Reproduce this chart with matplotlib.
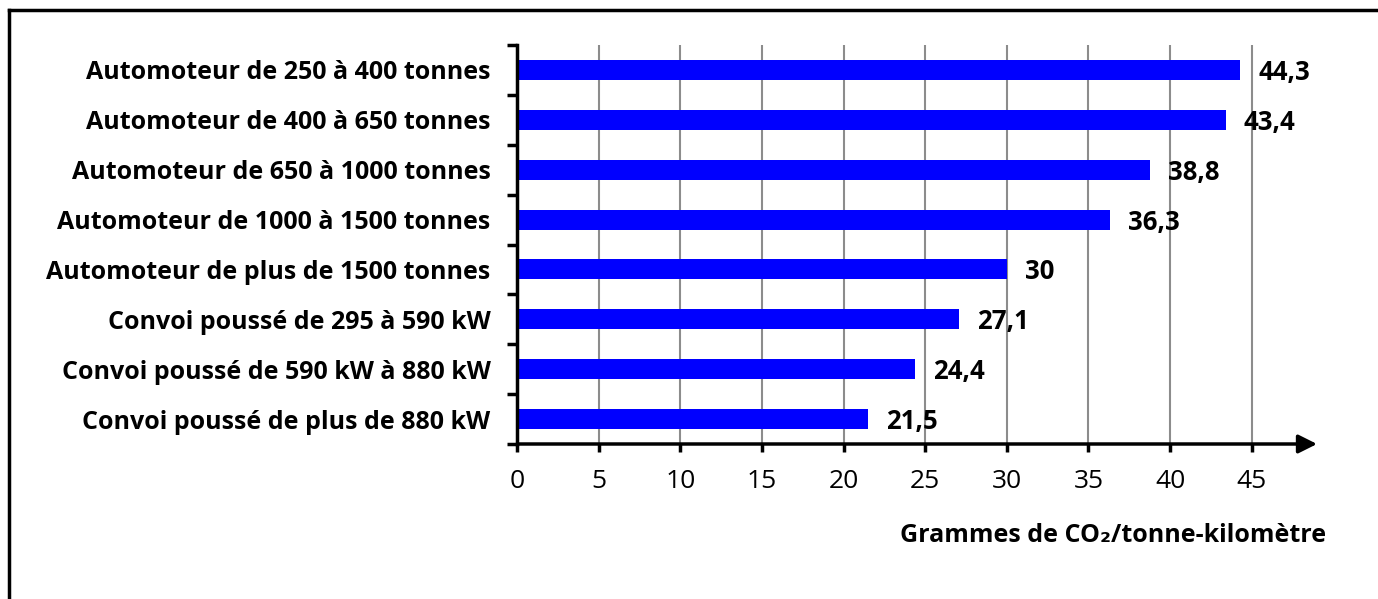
import matplotlib
matplotlib.use("Agg")
import matplotlib.pyplot as plt
import numpy as np

# data, top to bottom as in the chart
categories = [
    "Automoteur de 250 à 400 tonnes",
    "Automoteur de 400 à 650 tonnes",
    "Automoteur de 650 à 1000 tonnes",
    "Automoteur de 1000 à 1500 tonnes",
    "Automoteur de plus de 1500 tonnes",
    "Convoi poussé de 295 à 590 kW",
    "Convoi poussé de 590 kW à 880 kW",
    "Convoi poussé de plus de 880 kW",
]
values = [44.3, 43.4, 38.8, 36.3, 30, 27.1, 24.4, 21.5]
value_labels = ["44,3", "43,4", "38,8", "36,3", "30", "27,1", "24,4", "21,5"]
xticks = [0, 5, 10, 15, 20, 25, 30, 35, 40, 45]
xlabel = "Grammes de CO\u2082/tonne-kilomètre"

plt.rcParams['font.family'] = ['Open Sans', 'DejaVu Sans']

fig = plt.figure(figsize=(13.78, 5.99), dpi=100)
ax = fig.add_axes([517 / 1378, 1 - 444 / 599, 800 / 1378, 399 / 599])

n = len(categories)
ypos = np.arange(n)[::-1]
ax.barh(ypos, values, height=0.4, color="#0000FF", zorder=2)

for y, v, lab in zip(ypos, values, value_labels):
    ax.text(v + 1.1, y - 0.05, lab, ha="left", va="center",
            fontsize=18.5, fontweight="bold", color="black", zorder=3)

ax.set_xlim(0, 49)
ax.set_ylim(-0.5, n - 0.5)

# grid
ax.set_xticks(xticks)
ax.set_xticklabels([str(t) for t in xticks], fontsize=19)
ax.xaxis.grid(True, color="#8c8c8c", linewidth=1.5, zorder=0)
ax.tick_params(axis="x", direction="out", length=6, width=2.5, pad=12, colors="black")

# y axis: labels at bar centres, ticks at band edges
ax.set_yticks(ypos)
ax.set_yticklabels(categories, fontsize=18, fontweight="bold")
ax.tick_params(axis="y", which="major", length=0, pad=19)
ax.set_yticks(np.arange(-0.5, n, 1.0), minor=True)
ax.tick_params(axis="y", which="minor", length=7, width=2.5, direction="out")

for side in ["top", "right", "bottom"]:
    ax.spines[side].set_visible(False)
ax.spines["left"].set_linewidth(2.5)

# x axis with arrow
ax.annotate("", xy=(49, -0.5), xytext=(0, -0.5),
            arrowprops=dict(arrowstyle="-|>", lw=2.5, color="black",
                            mutation_scale=28, shrinkA=0, shrinkB=0),
            annotation_clip=False, zorder=4)

fig.text(1326 / 1378, 1 - 536 / 599, xlabel, ha="right", va="center",
         fontsize=18, fontweight="bold")

# frame around the chart (left and top visible)
fig.add_artist(plt.Line2D([9 / 1378, 9 / 1378], [0, 1 - 10 / 599],
                          color="black", linewidth=2.5, transform=fig.transFigure))
fig.add_artist(plt.Line2D([9 / 1378, 1], [1 - 10 / 599, 1 - 10 / 599],
                          color="black", linewidth=2.5, transform=fig.transFigure))

fig.savefig("out.png", dpi=100)
